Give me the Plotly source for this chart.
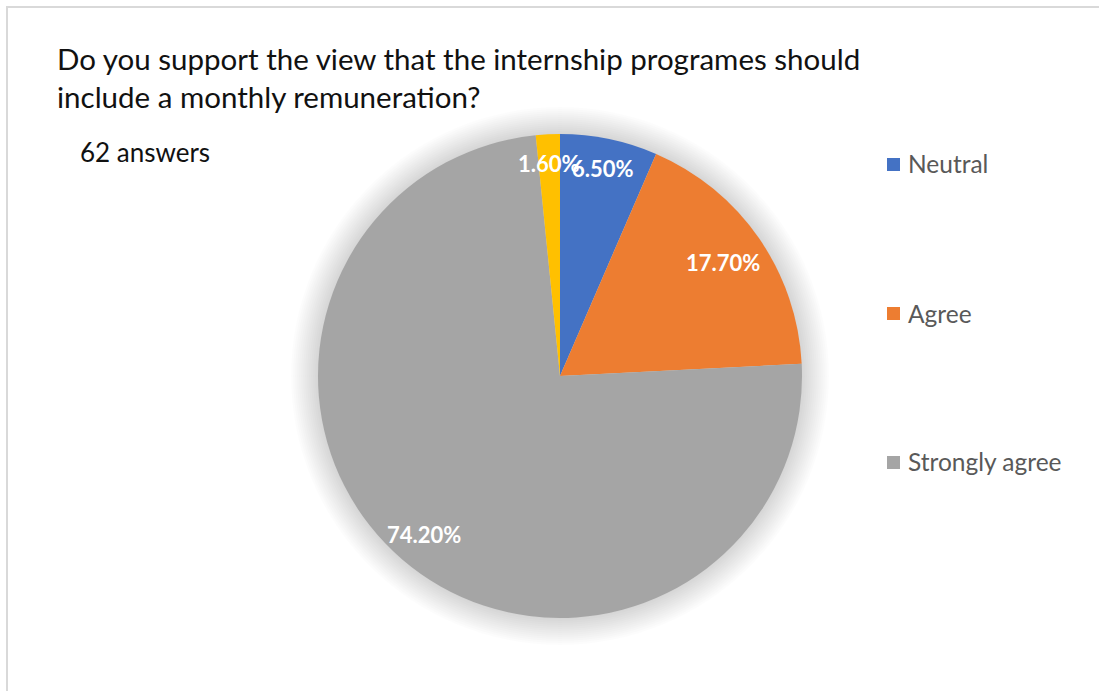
import math
import plotly.graph_objects as go

# Survey responses (share of 62 answers, %)
categories = ["Neutral", "Agree", "Strongly agree", "Disagree"]
shares = [6.5, 17.7, 74.2, 1.6]
colors = ["#4472C4", "#ED7D31", "#A5A5A5", "#FFC000"]
legend_items = ["Neutral", "Agree", "Strongly agree"]

title_lines = ["Do you support the view that the internship programes should",
               "include a monthly remuneration?"]
subtitle = "62 answers"

W, H = 1099, 691
CX, CY, R = 560, 376, 242  # pie centre and radius in pixels
FONT = "Lato, 'Open Sans', sans-serif"
# radial placement of each percentage label, as a fraction of the radius
label_radius = [0.875, 0.82, 0.865, 0.88]


def px(x):
    return x / W


def py(y):
    return 1 - y / H


fig = go.Figure()
fig.add_trace(go.Pie(
    labels=categories,
    values=shares,
    marker=dict(colors=colors, line=dict(width=0)),
    sort=False,
    direction="clockwise",
    rotation=0,
    textinfo="none",
    hoverinfo="label+percent",
    showlegend=False,
    domain=dict(x=[px(CX - R), px(CX + R)], y=[py(CY + R), py(CY - R)]),
))

shapes = []
# soft glow behind the pie
for i in range(14):
    r = R + 1 + i * 2
    shapes.append(dict(
        type="circle", xref="paper", yref="paper", layer="below",
        x0=px(CX - r), x1=px(CX + r), y0=py(CY + r), y1=py(CY - r),
        fillcolor="rgba(0,0,0,0.011)", line=dict(width=0),
    ))
# chart frame
shapes.append(dict(type="rect", xref="paper", yref="paper", layer="below",
                   x0=px(7), x1=px(W + 5), y0=py(H + 5), y1=py(7),
                   line=dict(color="#D9D9D9", width=2), fillcolor="rgba(0,0,0,0)"))

# percentage labels inside each slice
total = sum(shares)
label_annots = []
start = 0.0
for val, frac in zip(shares, label_radius):
    mid = (start + val / 2) / total * 2 * math.pi
    start += val
    rr = R * frac
    x = CX + rr * math.sin(mid)
    y = CY - rr * math.cos(mid)
    label_annots.append(dict(
        x=px(x), y=py(y), xref="paper", yref="paper",
        text=f"{val:.2f}%", showarrow=False,
        font=dict(family=FONT, size=22, color="white", weight="bold"),
        xanchor="center", yanchor="middle",
    ))
annotations = label_annots[::-1]

# title and answer count
for i, line in enumerate(title_lines):
    annotations.append(dict(
        x=px(55), y=py(59 + i * 37), xref="paper", yref="paper",
        text=line, showarrow=False, xanchor="left", yanchor="middle",
        font=dict(family=FONT, size=29.5, color="#111111"),
    ))
annotations.append(dict(
    x=px(78), y=py(152), xref="paper", yref="paper",
    text=subtitle, showarrow=False, xanchor="left", yanchor="middle",
    font=dict(family=FONT, size=26, color="#111111"),
))

# legend on the right
for i, name in enumerate(legend_items):
    ly = 164 + i * 149
    color = colors[categories.index(name)]
    shapes.append(dict(type="rect", xref="paper", yref="paper",
                       x0=px(887), x1=px(900), y0=py(ly + 7), y1=py(ly - 6),
                       fillcolor=color, line=dict(width=0)))
    annotations.append(dict(
        x=px(906), y=py(ly), xref="paper", yref="paper",
        text=name, showarrow=False, xanchor="left", yanchor="middle",
        font=dict(family=FONT, size=24.5, color="#595959"),
    ))

fig.update_layout(
    width=W, height=H,
    margin=dict(l=0, r=0, t=0, b=0),
    paper_bgcolor="white",
    plot_bgcolor="white",
    shapes=shapes,
    annotations=annotations,
    showlegend=False,
)

fig.write_html("out.html")
